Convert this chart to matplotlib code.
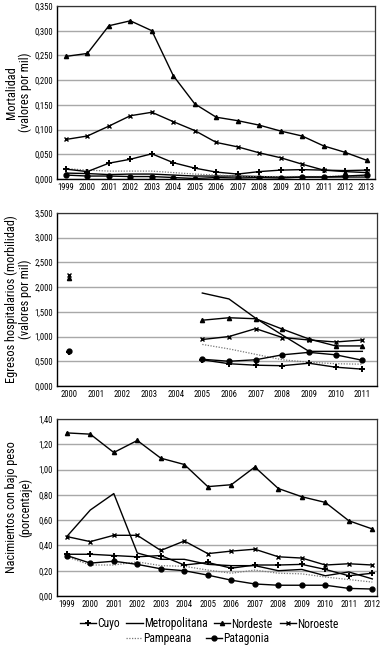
import numpy as np
import matplotlib
matplotlib.use("Agg")
import matplotlib.pyplot as plt
from matplotlib.ticker import FuncFormatter
from matplotlib.lines import Line2D
from matplotlib import font_manager as fm
from matplotlib.font_manager import FontProperties


def pick_font():
    for fam in ["Liberation Sans Narrow", "Roboto Condensed", "Open Sans Condensed"]:
        try:
            fm.findfont(FontProperties(family=fam), fallback_to_default=False)
            return fam, "normal"
        except Exception:
            pass
    try:
        f = fm.findfont(FontProperties(family="DejaVu Sans", stretch="condensed"), fallback_to_default=False)
        if "ondensed" in f:
            return "DejaVu Sans", "condensed"
    except Exception:
        pass
    return "DejaVu Sans", "normal"


FAM, STRETCH = pick_font()
plt.rcParams['font.family'] = [FAM, 'DejaVu Sans']
plt.rcParams['font.stretch'] = STRETCH

nan = np.nan
regions = ["Cuyo", "Metropolitana", "Nordeste", "Noroeste", "Pampeana", "Patagonia"]

# Panel 1: Mortalidad
years1 = [str(y) for y in range(1999, 2014)]
mort = {
    "Cuyo":          [0.020, 0.015, 0.032, 0.040, 0.051, 0.033, 0.022, 0.014, 0.010, 0.015, 0.018, 0.019, 0.018, 0.017, 0.018],
    "Metropolitana": [0.012, 0.011, 0.009, 0.010, 0.010, 0.008, 0.006, 0.006, 0.006, 0.005, 0.004, 0.004, 0.004, 0.004, 0.004],
    "Nordeste":      [0.248, 0.254, 0.310, 0.320, 0.300, 0.209, 0.152, 0.125, 0.118, 0.109, 0.097, 0.087, 0.067, 0.054, 0.038],
    "Noroeste":      [0.080, 0.087, 0.107, 0.128, 0.135, 0.116, 0.098, 0.074, 0.065, 0.053, 0.043, 0.030, 0.018, 0.015, 0.013],
    "Pampeana":      [0.021, 0.018, 0.016, 0.016, 0.016, 0.013, 0.010, 0.008, 0.006, 0.005, 0.005, 0.005, 0.005, 0.006, 0.006],
    "Patagonia":     [0.008, 0.006, 0.006, 0.005, 0.005, 0.003, 0.001, 0.003, 0.002, 0.003, 0.002, 0.004, 0.004, 0.006, 0.008],
}

# Panel 2: Egresos hospitalarios
years2 = [str(y) for y in range(2000, 2012)]
egr = {
    "Cuyo":          [0.69, nan, nan, nan, nan, 0.53, 0.45, 0.42, 0.41, 0.46, 0.38, 0.34],
    "Metropolitana": [nan, nan, nan, nan, nan, 1.88, 1.76, 1.37, 1.03, 0.70, 0.70, 0.70],
    "Nordeste":      [2.19, nan, nan, nan, nan, 1.33, 1.38, 1.36, 1.15, 0.95, 0.81, 0.81],
    "Noroeste":      [2.24, nan, nan, nan, nan, 0.94, 1.00, 1.16, 0.98, 0.93, 0.89, 0.93],
    "Pampeana":      [nan, nan, nan, nan, nan, 0.84, 0.75, 0.64, 0.53, 0.48, 0.45, 0.44],
    "Patagonia":     [0.71, nan, nan, nan, nan, 0.54, 0.50, 0.53, 0.63, 0.68, 0.63, 0.52],
}

# Panel 3: Nacimientos con bajo peso
years3 = [str(y) for y in range(1999, 2013)]
nac = {
    "Cuyo":          [0.33, 0.33, 0.32, 0.31, 0.32, 0.245, 0.265, 0.22, 0.245, 0.245, 0.25, 0.21, 0.16, 0.18],
    "Metropolitana": [0.47, 0.68, 0.81, 0.34, 0.29, 0.29, 0.25, 0.24, 0.24, 0.20, 0.21, 0.16, 0.19, 0.135],
    "Nordeste":      [1.29, 1.28, 1.135, 1.23, 1.09, 1.04, 0.865, 0.88, 1.02, 0.85, 0.785, 0.74, 0.595, 0.53],
    "Noroeste":      [0.47, 0.43, 0.48, 0.48, 0.36, 0.435, 0.335, 0.355, 0.37, 0.31, 0.30, 0.245, 0.255, 0.245],
    "Pampeana":      [0.31, 0.245, 0.245, 0.27, 0.24, 0.235, 0.205, 0.18, 0.205, 0.18, 0.175, 0.15, 0.13, 0.11],
    "Patagonia":     [0.32, 0.26, 0.275, 0.25, 0.215, 0.20, 0.165, 0.125, 0.095, 0.085, 0.085, 0.085, 0.06, 0.055],
}

styles = {
    "Cuyo":          dict(color="black", lw=1.0, marker="+", ms=4.0, mew=1.4),
    "Metropolitana": dict(color="black", lw=1.0, marker=None),
    "Nordeste":      dict(color="black", lw=1.0, marker="^", ms=3.0),
    "Noroeste":      dict(color="black", lw=1.0, marker="x", ms=3.0, mew=1.0),
    "Pampeana":      dict(color="#777777", lw=0.9, ls=(0, (1, 1.2)), marker=None),
    "Patagonia":     dict(color="black", lw=1.0, marker="o", ms=3.5),
}
order = ["Metropolitana", "Pampeana", "Patagonia", "Cuyo", "Noroeste", "Nordeste"]

fig = plt.figure(figsize=(3.82, 6.5), dpi=100)


def setup(ax, cats, ymax, step, dec, ylabel, xlim):
    ax.set_xlim(*xlim)
    ax.set_ylim(0, ymax)
    ax.set_yticks(np.arange(0, ymax + step / 2, step))
    ax.yaxis.set_major_formatter(FuncFormatter(lambda v, p: f"{v:.{dec}f}".replace(".", ",")))
    ax.set_xticks(range(len(cats)))
    ax.set_xticklabels(cats)
    ax.tick_params(axis="both", labelsize=6.2, length=0, pad=3)
    ax.grid(axis="y", color="#a8a8a8", lw=1.0)
    ax.set_axisbelow(True)
    for s in ["top", "right"]:
        ax.spines[s].set_color("#333333")
        ax.spines[s].set_linewidth(0.9)
    for s in ["left", "bottom"]:
        ax.spines[s].set_color("black")
        ax.spines[s].set_linewidth(1.0)
    ax.set_ylabel(ylabel, fontsize=8.8, linespacing=1.0)
    w = ax.get_position().width * 382
    ax.yaxis.set_label_coords(-25.0 / w, 0.5)


def draw(ax, cats, data):
    x = np.arange(len(cats))
    for r in order:
        ax.plot(x, data[r], **styles[r])


ax1 = fig.add_axes([0.149, 0.7246, 0.833, 0.2662])
draw(ax1, years1, mort)
setup(ax1, years1, 0.350, 0.050, 3, "Mortalidad\n(valores por mil)", (-0.42, 14.4))

ax2 = fig.add_axes([0.149, 0.4062, 0.838, 0.2662])
draw(ax2, years2, egr)
setup(ax2, years2, 3.5, 0.5, 3, "Egresos hospitalarios (morbilidad)\n(valores por mil)", (-0.45, 11.55))

ax3 = fig.add_axes([0.149, 0.0831, 0.838, 0.2723])
draw(ax3, years3, nac)
setup(ax3, years3, 1.40, 0.20, 2, "Nacimientos con bajo peso\n(porcentaje)", (-0.42, 13.2))


def handle(r):
    return Line2D([], [], **styles[r])


row1 = ["Cuyo", "Metropolitana", "Nordeste", "Noroeste"]
row2 = ["Pampeana", "Patagonia"]
leg_kw = dict(frameon=False, fontsize=8.3, handlelength=1.4, handletextpad=0.1,
              columnspacing=0.6, borderaxespad=0, borderpad=0)
fig.legend([handle(r) for r in row1], row1, ncol=4, loc="center",
           bbox_to_anchor=(0.547, 0.040), **leg_kw)
fig.legend([handle(r) for r in row2], row2, ncol=2, loc="center",
           bbox_to_anchor=(0.517, 0.017), **{**leg_kw, "columnspacing": 1.2})

fig.savefig("out.png", dpi=100)
